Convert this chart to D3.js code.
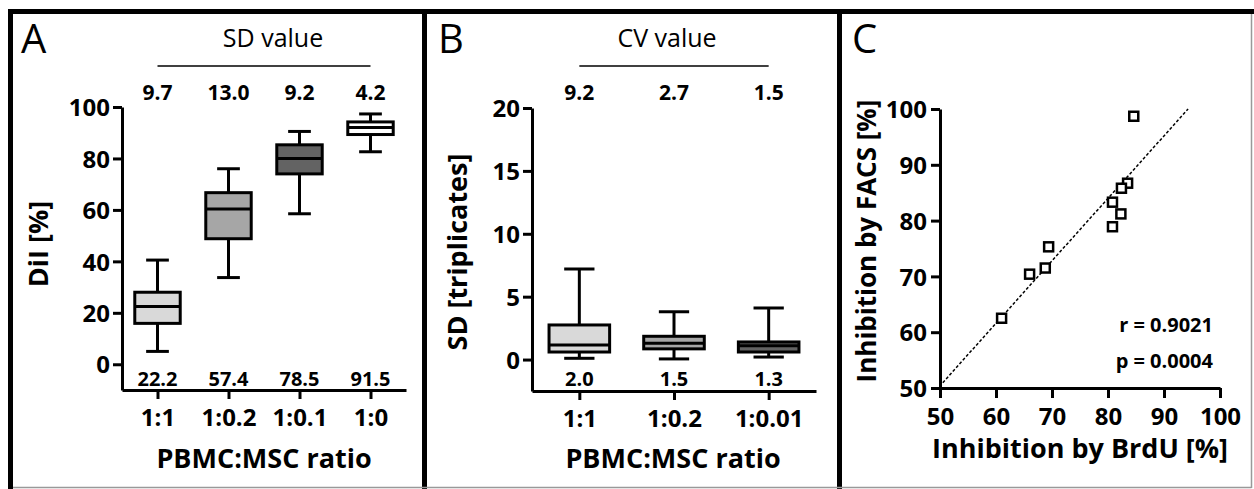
<!DOCTYPE html>
<html>
<head>
<meta charset="utf-8">
<script src="https://cdn.jsdelivr.net/npm/d3@7"></script>
<style>
  body { margin: 0; background: #fff; }
  svg { display: block; font-family: 'Open Sans', sans-serif; }
</style>
</head>
<body>
<svg id="chart"></svg>
<script>
// panel A: DiI inhibition by ratio
const ratiosA = ['1:1', '1:0.2', '1:0.1', '1:0'];
const sdA = ['9.7', '13.0', '9.2', '4.2'];
const meanA = ['22.2', '57.4', '78.5', '91.5'];
// [min, q1, median, q3, max]
const statsA = [
  [5, 15.9, 22.5, 28, 40.5],
  [33.7, 48.8, 60.4, 66.7, 76],
  [58.5, 74, 80, 85.3, 90.5],
  [82.6, 89.3, 92, 94.2, 97.3]
];
const ticksA = [0, 20, 40, 60, 80, 100];

// panel B: SD of triplicates
const ratiosB = ['1:1', '1:0.2', '1:0.01'];
const cvB = ['9.2', '2.7', '1.5'];
const meanB = ['2.0', '1.5', '1.3'];
const statsB = [
  [0.1, 0.6, 1.15, 2.75, 7.2],
  [0.05, 0.85, 1.3, 1.85, 3.8],
  [0.2, 0.6, 1.1, 1.4, 4.1]
];
const ticksB = [0, 5, 10, 15, 20];

// panel C: BrdU vs FACS
const brdu = [84.6, 83.5, 82.4, 80.8, 82.3, 80.8, 69.4, 68.8, 66, 61];
const facs = [98.7, 86.7, 85.8, 83.3, 81.2, 78.9, 75.3, 71.5, 70.4, 62.5];
const fitLine = [[50.5, 50.96], [94.3, 100]];
const ticksC = [50, 60, 70, 80, 90, 100];
const statsText = ['r = 0.9021', 'p = 0.0004'];

const fillsA = ['#d9d9d9', '#a6a6a6', '#636363', '#ffffff'];
const fillsB = ['#d9d9d9', '#a6a6a6', '#636363'];

const width = 1254;
const height = 489;
const svg = d3.select('#chart').attr('width', width).attr('height', height);

// frame
svg.append('rect').attr('x', 8).attr('y', 9).attr('width', width - 8).attr('height', 5).attr('fill', '#000');
[8, 422, 837].forEach(x => {
  svg.append('rect').attr('x', x).attr('y', 9).attr('width', 5).attr('height', height - 9).attr('fill', '#000');
});
svg.append('line').attr('x1', 13).attr('x2', 1251.5).attr('y1', 487.5).attr('y2', 487.5)
   .attr('stroke', '#999').attr('stroke-width', 1.5);
svg.append('line').attr('x1', 1251.5).attr('x2', 1251.5).attr('y1', 14).attr('y2', 488)
   .attr('stroke', '#999').attr('stroke-width', 1.5);

const styleAxis = (g) => {
  g.select('.domain').attr('stroke-width', 3);
  g.selectAll('.tick line').attr('stroke-width', 3);
  g.selectAll('.tick text').attr('font-family', 'Open Sans').attr('font-weight', 'bold')
   .attr('font-size', 24).attr('fill', '#000');
};

const boxPanel = (opt) => {
  const { cats, stats, fills, top, bottom, ticks, x0, x1, yTop, yBot, letter, letterX,
          headText, headX, yTitle, yTitleX, yTitleY, xTitleX } = opt;
  const x = d3.scalePoint().domain(cats).range([x0, x1]).padding(0.5);
  const y = d3.scaleLinear().domain(opt.domain).range([yBot, yTop]);
  const step = x.step();
  const bw = step * 0.64;
  const cw = step * 0.32;

  const g = svg.append('g');
  g.append('g').attr('transform', `translate(${x0},0)`)
   .call(d3.axisLeft(y).tickValues(ticks).tickSize(9).tickSizeOuter(0).tickPadding(3))
   .call(styleAxis)
   .call(a => a.selectAll('.tick text').attr('dy', '0.36em'));
  g.append('g').attr('transform', `translate(0,${yBot})`)
   .call(d3.axisBottom(x).tickSize(9).tickSizeOuter(0).tickPadding(9))
   .call(styleAxis)
   .call(a => a.selectAll('.tick text').attr('dy', '0.76em'));

  const boxes = g.selectAll('.box').data(stats).enter().append('g');
  boxes.append('line')
    .attr('x1', (d, i) => x(cats[i])).attr('x2', (d, i) => x(cats[i]))
    .attr('y1', d => y(d[0])).attr('y2', d => y(d[4]))
    .attr('stroke', '#000').attr('stroke-width', 3);
  [0, 4].forEach(k => {
    boxes.append('line')
      .attr('x1', (d, i) => x(cats[i]) - cw / 2).attr('x2', (d, i) => x(cats[i]) + cw / 2)
      .attr('y1', d => y(d[k])).attr('y2', d => y(d[k]))
      .attr('stroke', '#000').attr('stroke-width', 3);
  });
  boxes.append('rect')
    .attr('x', (d, i) => x(cats[i]) - bw / 2).attr('width', bw)
    .attr('y', d => y(d[3])).attr('height', d => y(d[1]) - y(d[3]))
    .attr('fill', (d, i) => fills[i]).attr('stroke', '#000').attr('stroke-width', 3);
  boxes.append('line')
    .attr('x1', (d, i) => x(cats[i]) - bw / 2).attr('x2', (d, i) => x(cats[i]) + bw / 2)
    .attr('y1', d => y(d[2])).attr('y2', d => y(d[2]))
    .attr('stroke', '#000').attr('stroke-width', 3);

  // numbers above and below
  g.selectAll('.top').data(top).enter().append('text')
    .attr('x', (d, i) => x(cats[i])).attr('y', 100).attr('text-anchor', 'middle')
    .attr('font-weight', 'bold').attr('font-size', 21).text(d => d);
  g.selectAll('.bot').data(bottom).enter().append('text')
    .attr('x', (d, i) => x(cats[i])).attr('y', 386).attr('text-anchor', 'middle')
    .attr('font-weight', 'bold').attr('font-size', 20).text(d => d);

  // header
  g.append('text').attr('x', headX).attr('y', 47).attr('text-anchor', 'middle')
    .attr('font-size', 25).text(headText);
  g.append('line').attr('x1', x(cats[0])).attr('x2', x(cats[cats.length - 1]))
    .attr('y1', 66).attr('y2', 66).attr('stroke', '#000').attr('stroke-width', 1.5);
  g.append('text').attr('x', letterX).attr('y', 53).attr('font-size', 40).text(letter);

  g.append('text').attr('x', xTitleX).attr('y', 468).attr('text-anchor', 'middle')
    .attr('font-weight', 'bold').attr('font-size', 27).text('PBMC:MSC ratio');
  g.append('text').attr('transform', `translate(${yTitleX},${yTitleY}) rotate(-90)`)
    .attr('text-anchor', 'middle').attr('font-weight', 'bold').attr('font-size', 27).text(yTitle);
};

boxPanel({
  cats: ratiosA, stats: statsA, fills: fillsA, top: sdA, bottom: meanA, ticks: ticksA,
  domain: [-10, 100], x0: 122, x1: 406, yTop: 107, yBot: 390,
  letter: 'A', letterX: 21, headText: 'SD value', headX: 273,
  yTitle: 'DiI [%]', yTitleX: 48, yTitleY: 244, xTitleX: 264
});

boxPanel({
  cats: ratiosB, stats: statsB, fills: fillsB, top: cvB, bottom: meanB, ticks: ticksB,
  domain: [-2.5, 20], x0: 532, x1: 816, yTop: 108, yBot: 391,
  letter: 'B', letterX: 438, headText: 'CV value', headX: 667,
  yTitle: 'SD [triplicates]', yTitleX: 467, yTitleY: 252, xTitleX: 673
});

// panel C scatter
const xC = d3.scaleLinear().domain([50, 100]).range([940, 1220]);
const yC = d3.scaleLinear().domain([50, 100]).range([388, 109]);
const gC = svg.append('g');
gC.append('g').attr('transform', 'translate(940,0)')
  .call(d3.axisLeft(yC).tickValues(ticksC).tickSize(9).tickSizeOuter(0).tickPadding(4))
  .call(styleAxis)
  .call(a => a.selectAll('.tick text').attr('dy', '0.36em'));
gC.append('g').attr('transform', 'translate(0,388)')
  .call(d3.axisBottom(xC).tickValues(ticksC).tickSize(10).tickSizeOuter(0).tickPadding(9))
  .call(styleAxis)
  .call(a => a.selectAll('.tick text').attr('dy', '0.76em'));

gC.append('path')
  .attr('d', d3.line().x(d => xC(d[0])).y(d => yC(d[1]))(fitLine))
  .attr('stroke', '#000').attr('stroke-width', 1.5).attr('stroke-dasharray', '3,2').attr('fill', 'none');

gC.selectAll('.pt').data(brdu).enter().append('rect')
  .attr('x', d => xC(d) - 4.5).attr('y', (d, i) => yC(facs[i]) - 4.5)
  .attr('width', 9).attr('height', 9)
  .attr('fill', '#fff').attr('stroke', '#000').attr('stroke-width', 2.5);

gC.selectAll('.st').data(statsText).enter().append('text')
  .attr('x', 1213).attr('y', (d, i) => 332 + i * 36).attr('text-anchor', 'end')
  .attr('font-weight', 'bold').attr('font-size', 20).text(d => d);

gC.append('text').attr('x', 852).attr('y', 53).attr('font-size', 40).text('C');
gC.append('text').attr('x', 1080).attr('y', 458).attr('text-anchor', 'middle')
  .attr('font-weight', 'bold').attr('font-size', 27).text('Inhibition by BrdU [%]');
gC.append('text').attr('transform', 'translate(876,241) rotate(-90)')
  .attr('text-anchor', 'middle').attr('font-weight', 'bold').attr('font-size', 26)
  .text('Inhibition by FACS [%]');
</script>
</body>
</html>
